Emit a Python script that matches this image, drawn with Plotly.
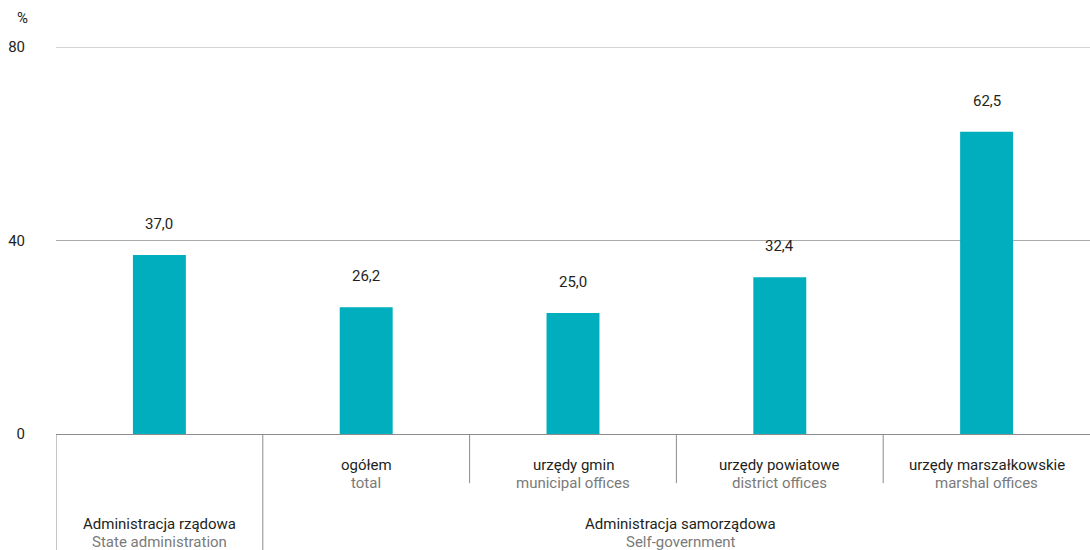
import plotly.graph_objects as go

# Share of employees (%) by type of public administration unit
categories_pl = ["", "ogółem", "urzędy gmin", "urzędy powiatowe", "urzędy marszałkowskie"]
categories_en = ["", "total", "municipal offices", "district offices", "marshal offices"]
values = [37.0, 26.2, 25.0, 32.4, 62.5]
group_labels_pl = ["Administracja rządowa", "Administracja samorządowa"]
group_labels_en = ["State administration", "Self-government"]
y_ticks = [0, 40, 80]

FONT = "Roboto, Liberation Sans Narrow, sans-serif"
DARK = "#231f20"
GREY = "#7a7a7a"
BAR = "#00AEBD"
FS = 15

x = list(range(len(values)))

fig = go.Figure(go.Bar(
    x=x, y=values, width=0.256, marker=dict(color=BAR, line=dict(width=0)),
    hoverinfo="skip",
))

# value labels above bars
for xi, v in zip(x, values):
    fig.add_annotation(x=xi, y=v, text=f"{v:.1f}".replace(".", ","), showarrow=False,
                       yshift=31, font=dict(family=FONT, size=FS, color=DARK))

# category labels (Polish / English)
for xi, pl, en in zip(x, categories_pl, categories_en):
    if pl:
        fig.add_annotation(x=xi, y=-0.079, yref="paper", text=pl, showarrow=False,
                           yanchor="middle", font=dict(family=FONT, size=FS, color=DARK))
        fig.add_annotation(x=xi, y=-0.126, yref="paper", text=en, showarrow=False,
                           yanchor="middle", font=dict(family=FONT, size=FS, color=GREY))

# group labels
group_x = [0, 2.52]
for gx, pl, en in zip(group_x, group_labels_pl, group_labels_en):
    fig.add_annotation(x=gx, y=-0.232, yref="paper", text=pl, showarrow=False,
                       yanchor="middle", font=dict(family=FONT, size=FS, color=DARK))
    fig.add_annotation(x=gx, y=-0.279, yref="paper", text=en, showarrow=False,
                       yanchor="middle", font=dict(family=FONT, size=FS, color=GREY))

# separators below the axis
for sx, bottom in [(-0.5, -0.31), (0.5, -0.31), (1.5, -0.127), (2.5, -0.127), (3.5, -0.127)]:
    fig.add_shape(type="line", x0=sx, x1=sx, y0=0, y1=bottom, xref="x", yref="paper",
                  line=dict(color="#8c8c8c", width=1))

# top gridline at the range edge
fig.add_shape(type="line", x0=0, x1=1, xref="paper", y0=y_ticks[-1], y1=y_ticks[-1], yref="y",
              line=dict(color="#ababab", width=1), layer="below")

# unit label
fig.add_annotation(x=-0.032, xref="paper", y=1.075, yref="paper", text="%", showarrow=False,
                   xanchor="center", yanchor="middle", font=dict(family=FONT, size=FS, color=DARK))

fig.update_layout(
    width=1090, height=550,
    margin=dict(l=56, r=0, t=47, b=116),
    plot_bgcolor="white", paper_bgcolor="white",
    showlegend=False,
    xaxis=dict(range=[-0.5, 4.5], showticklabels=False, showgrid=False, zeroline=False,
               showline=False, ticks=""),
    yaxis=dict(range=[0, 80], tickvals=y_ticks, ticktext=[str(t) for t in y_ticks],
               showgrid=True, gridcolor="#ababab", gridwidth=1, zeroline=True,
               zerolinecolor="#8c8c8c", zerolinewidth=1, showline=False, ticks="",
               ticklabelstandoff=30,
               tickfont=dict(family=FONT, size=FS, color=DARK)),
)

fig.write_html("out.html")
